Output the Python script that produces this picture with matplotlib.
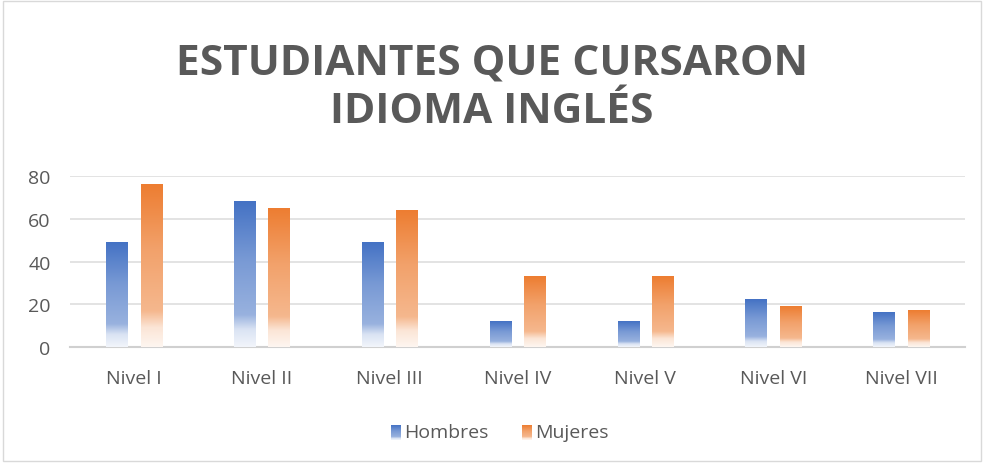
import numpy as np
import matplotlib
matplotlib.use("Agg")
import matplotlib.pyplot as plt
from matplotlib.colors import LinearSegmentedColormap, to_rgb
from matplotlib.patches import Rectangle

# data
niveles = ["Nivel I", "Nivel II", "Nivel III", "Nivel IV", "Nivel V", "Nivel VI", "Nivel VII"]
hombres = [49, 68, 49, 12, 12, 22, 16]
mujeres = [76, 65, 64, 33, 33, 19, 17]
series_names = ["Hombres", "Mujeres"]
yticks = [0, 20, 40, 60, 80]

plt.rcParams['font.family'] = ['Open Sans', 'DejaVu Sans']
GRAY = "#595959"
BLUE = "#4472C4"
ORANGE = "#ED7D31"


def fade_cmap(color):
    c = np.array(to_rgb(color))
    w = np.ones(3)
    mix = lambda t: tuple(c * (1 - t) + w * t)
    # position 0 = bottom of bar, 1 = top
    stops = [(0.0, mix(0.93)), (0.12, mix(0.8)), (0.22, mix(0.45)),
             (0.6, mix(0.28)), (1.0, mix(0.0))]
    return LinearSegmentedColormap.from_list("fade", stops)


grad = np.linspace(0, 1, 256).reshape(-1, 1)

fig = plt.figure(figsize=(9.84, 4.64), dpi=100)
ax = fig.add_axes([0.0711, 0.25, 0.9096, 0.3685])

x = np.arange(len(niveles))
width = 0.165
offset = 0.135
for vals, col, sign in [(hombres, BLUE, -1), (mujeres, ORANGE, 1)]:
    cmap = fade_cmap(col)
    for xi, v in zip(x, vals):
        cx = xi + sign * offset
        ax.imshow(grad, cmap=cmap, origin="lower", aspect="auto",
                  extent=(cx - width / 2, cx + width / 2, 0, v), zorder=3,
                  interpolation="bilinear")

ax.set_xlim(-0.5, len(niveles) - 0.5)
ax.set_ylim(0, 80)
ax.set_yticks(yticks)
ax.set_xticks(x)
ax.set_xticklabels(niveles)
ax.tick_params(length=0, labelsize=14, labelcolor=GRAY)
ax.tick_params(axis="x", pad=16)
ax.tick_params(axis="y", pad=14)
ax.grid(axis="y", color="#DEDEDE", linewidth=1.2, zorder=0)
for s in ["top", "right", "left"]:
    ax.spines[s].set_visible(False)
ax.spines["bottom"].set_color("#D0D0D0")
ax.spines["bottom"].set_linewidth(1.5)

fig.text(0.5, 1 - 88 / 464, "ESTUDIANTES QUE CURSARON\nIDIOMA INGLÉS", ha="center", va="center",
         fontsize=30.5, fontweight="bold", color=GRAY, linespacing=1.25)

# legend with faded squares
for name, col, sx in [(series_names[0], BLUE, 391), (series_names[1], ORANGE, 522)]:
    lax = fig.add_axes([sx / 984, 1 - 441 / 464, 10 / 984, 15 / 464])
    lax.imshow(grad, cmap=fade_cmap(col), origin="lower", aspect="auto")
    lax.axis("off")
    fig.text((sx + 13) / 984, 1 - 433 / 464, name, ha="left", va="center",
             fontsize=14, color=GRAY)

fig.add_artist(Rectangle((0.003, 0.004), 0.994, 0.992, transform=fig.transFigure,
                         fill=False, edgecolor="#D9D9D9", linewidth=1))

fig.savefig("out.png", dpi=100)
